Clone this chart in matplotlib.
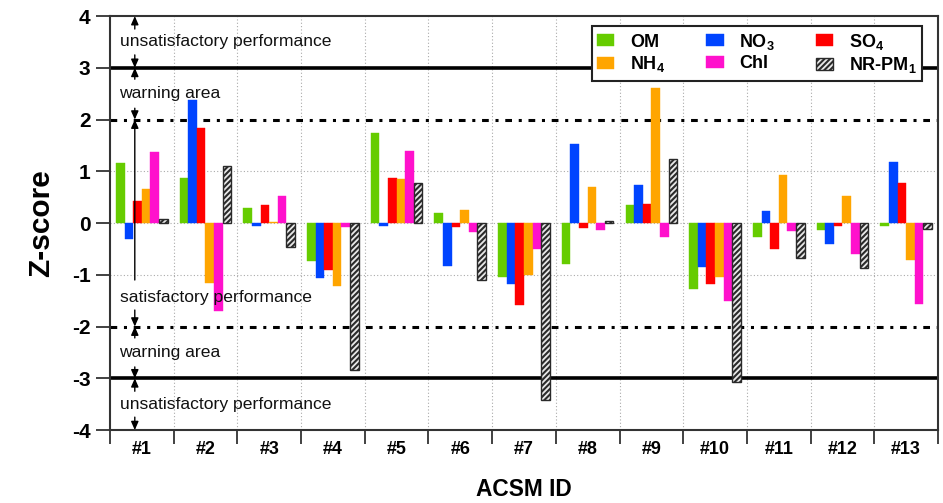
import matplotlib
matplotlib.use("Agg")
import matplotlib.pyplot as plt
import numpy as np

plt.rcParams['font.family'] = ['Liberation Sans', 'DejaVu Sans']
plt.rcParams['mathtext.fontset'] = 'custom'
plt.rcParams['mathtext.rm'] = 'Liberation Sans'
plt.rcParams['mathtext.bf'] = 'Liberation Sans:bold'
plt.rcParams['hatch.linewidth'] = 1.5

categories = ['#1', '#2', '#3', '#4', '#5', '#6', '#7', '#8', '#9', '#10', '#11', '#12', '#13']
OM   = [1.17, 0.88, 0.30, -0.73, 1.74, 0.19, -1.04, -0.80, 0.34, -1.27, -0.26, -0.14, -0.06]
NO3  = [-0.30, 2.38, -0.06, -1.06, -0.06, -0.83, -1.17, 1.52, 0.73, -0.85, 0.24, -0.41, 1.18]
SO4  = [0.43, 1.84, 0.35, -0.91, 0.88, -0.08, -1.58, -0.09, 0.37, -1.17, -0.51, -0.06, 0.78]
NH4  = [0.66, -1.15, 0.03, -1.21, 0.86, 0.26, -1.00, 0.69, 2.61, -1.04, 0.93, 0.52, -0.71]
Chl  = [1.37, -1.69, 0.53, -0.07, 1.39, -0.17, -0.51, -0.13, -0.27, -1.50, -0.15, -0.59, -1.57]
NRPM1 = [0.07, 1.10, -0.46, -2.83, 0.78, -1.10, -3.41, 0.04, 1.24, -3.07, -0.67, -0.87, -0.12]

series = [OM, NO3, SO4, NH4, Chl, NRPM1]
labels = ['OM', r'NO$_\mathbf{3}$', r'SO$_\mathbf{4}$', r'NH$_\mathbf{4}$', 'Chl', r'NR-PM$_\mathbf{1}$']
colors = ['#66CC00', '#0044FF', '#FF0000', '#FFA500', '#FF11CC', '#e8e8e8']

fig = plt.figure(figsize=(9.43, 5.03), dpi=100)
ax = fig.add_axes([0.1166, 0.145, 0.8781, 0.823])

x = np.arange(len(categories))
w = 0.135
bars = []
for i, (vals, lab, col) in enumerate(zip(series, labels, colors)):
    if i == 5:
        b = ax.bar(x + (i - 2.5) * w, vals, w, color=col, edgecolor='#2a2a2a',
                   hatch='//////', linewidth=1.0, label=lab, zorder=3)
    else:
        b = ax.bar(x + (i - 2.5) * w, vals, w, color=col, edgecolor=col,
                   linewidth=0.3, label=lab, zorder=3)
    bars.append(b)

ax.set_xlim(-0.5, len(categories) - 0.5)
ax.set_ylim(-4, 4)

# grid
for yv in [-1, 0, 1]:
    ax.axhline(yv, color='#aaaaaa', lw=0.8, ls=(0, (1, 2)), zorder=1)
for xv in np.arange(0.5, len(categories) - 0.5, 1):
    ax.axvline(xv, color='#aaaaaa', lw=0.8, ls=(0, (1, 2)), zorder=1)

# threshold lines
for yv in [-3, 3]:
    ax.axhline(yv, color='black', lw=2.6, zorder=2)
for yv in [-2, 2]:
    ax.axhline(yv, color='black', lw=2.2, ls=(0, (2.2, 2.2, 1.0, 2.2)), zorder=2)

# region texts and arrows
xa = -0.11
xt = -0.35
tfs = 12.6
regions = [
    (3.5, 'unsatisfactory performance', 4, 3, 0.25),
    (2.5, 'warning area', 3, 2, 0.22),
    (-1.43, 'satisfactory performance', 2, -2, None),
    (-2.5, 'warning area', -2, -3, 0.22),
    (-3.5, 'unsatisfactory performance', -3, -4, 0.25),
]
aprops = dict(arrowstyle='-|>,head_length=0.5,head_width=0.22', color='black', lw=1.0,
              shrinkA=0, shrinkB=0)
for yc, txt, top, bot, gap in regions:
    ax.text(xt, yc, txt, fontsize=tfs, va='center', ha='left', color='#111111', zorder=6)
    if gap is None:
        ax.annotate('', xy=(xa, top), xytext=(xa, -1.1), arrowprops=aprops, zorder=5)
        ax.annotate('', xy=(xa, bot), xytext=(xa, -1.68), arrowprops=aprops, zorder=5)
    else:
        ax.annotate('', xy=(xa, top), xytext=(xa, top - gap), arrowprops=aprops, zorder=5)
        ax.annotate('', xy=(xa, bot), xytext=(xa, bot + gap), arrowprops=aprops, zorder=5)

# ticks
ax.set_yticks(range(-4, 5))
ax.set_yticklabels([str(v) for v in range(-4, 5)], fontsize=15, fontweight='bold')
ax.set_xticks(x)
ax.set_xticklabels(categories, fontsize=13, fontweight='bold')
ax.set_xticks(np.arange(-0.5, len(categories), 1), minor=True)
ax.tick_params(axis='x', which='major', length=0, pad=8)
ax.tick_params(axis='x', which='minor', length=10, width=1.3, color='#333333')
ax.tick_params(axis='y', which='major', length=10, width=1.3, color='#333333', pad=4)

for s in ax.spines.values():
    s.set_linewidth(1.5)
    s.set_color('#333333')

ax.set_ylabel('Z-score', fontsize=21.5, fontweight='bold', labelpad=12)
ax.set_xlabel('ACSM ID', fontsize=16.4, fontweight='bold', labelpad=14)

# legend (column-major order for ncol=3)
order = [0, 3, 1, 4, 2, 5]
leg = ax.legend([bars[i] for i in order], [labels[i] for i in order], ncol=3,
                loc='upper right', bbox_to_anchor=(0.9807, 0.9758), borderaxespad=0,
                fancybox=False, framealpha=1, edgecolor='#222222',
                prop=dict(weight='bold', size=13),
                handlelength=0.95, handleheight=0.6, columnspacing=2.3,
                borderpad=0.3, labelspacing=0.2, handletextpad=0.85)
leg.get_frame().set_linewidth(1.5)
leg.set_zorder(10)

fig.savefig('out.png', dpi=100)
